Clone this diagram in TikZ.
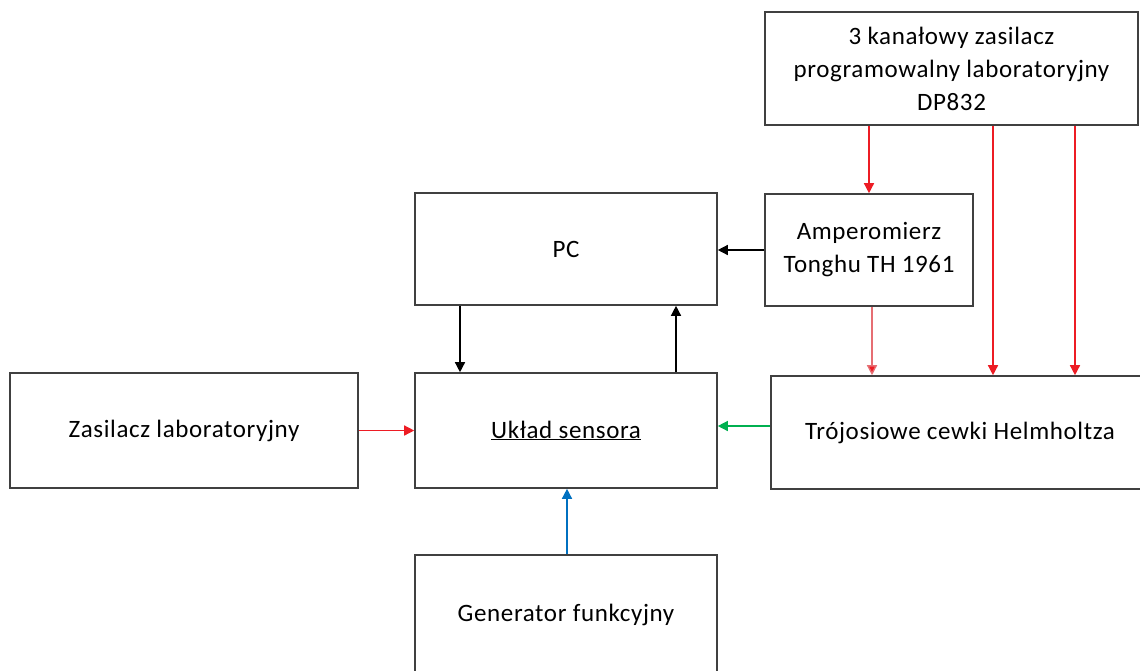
\documentclass[tikz,border=0pt]{standalone}
\usepackage{fontspec}
\setmainfont[LetterSpace=2.5]{Carlito}
\usetikzlibrary{arrows.meta}
\definecolor{linered}{RGB}{237,28,36}
\definecolor{palered}{RGB}{230,110,115}
\definecolor{linegreen}{RGB}{0,176,80}
\definecolor{lineblue}{RGB}{0,112,192}
\definecolor{boxline}{RGB}{64,64,64}
\begin{document}
\begin{tikzpicture}[x=1pt,y=-1pt,
  box/.style={draw=boxline,line width=1.6pt,rectangle,align=center,
    inner sep=0pt,font=\fontsize{25}{33}\selectfont},
  arr/.style={line width=1.4pt,-{Triangle[width=10pt,length=10pt]}},
  blk/.style={arr,draw=black},
  red/.style={arr,draw=linered,fill=linered},
  pred/.style={arr,draw=palered,-{Triangle[width=10pt,length=10pt,fill=linered]}},
  grn/.style={arr,draw=linegreen},
  blu/.style={arr,draw=lineblue}]
\useasboundingbox (0,0) rectangle (1140,670);
\fill[white] (0,0) rectangle (1140,670);

% blocks
\node[box,minimum width=373pt,minimum height=113pt] (dp) at (951.5,68.5)
  {3 kanałowy zasilacz\\programowalny laboratoryjny\\DP832};
\node[box,minimum width=302pt,minimum height=112pt] (pc) at (566,249) {PC};
\node[box,minimum width=208pt,minimum height=112pt] (amp) at (869,250)
  {Amperomierz\\Tonghu TH 1961};
\node[box,minimum width=348pt,minimum height=115pt] (zl) at (184,430.5)
  {Zasilacz laboratoryjny};
\node[box,minimum width=302pt,minimum height=115pt] (uk) at (566,430.5)
  {\underline{Układ sensora}};
\node[box,minimum width=378pt,minimum height=113pt] (tr) at (960,432.5)
  {Trójosiowe cewki Helmholtza};
\node[box,minimum width=302pt,minimum height=120pt] (gen) at (566,615)
  {Generator funkcyjny};

% supply lines
\draw[red] (dp.south -| amp.north) -- (amp.north);
\draw[red] ([xshift=33pt]tr.north |- dp.south) -- ([xshift=33pt]tr.north);
\draw[red] ([xshift=115pt]tr.north |- dp.south) -- ([xshift=115pt]tr.north);
\draw[pred] ([xshift=3pt]amp.south) -- ([xshift=3pt]amp.south |- tr.north);

% data lines
\draw[blk] (amp.west) -- (amp.west -| pc.east);
\draw[blk] ([xshift=-106pt]pc.south) -- ([xshift=-106pt]uk.north);
\draw[blk] ([xshift=110pt]uk.north) -- ([xshift=110pt]pc.south);

% signals into the sensor board
\draw[red] (zl.east) -- (uk.west);
\draw[grn] ([yshift=6.5pt]tr.west) -- ([yshift=6.5pt]tr.west -| uk.east);
\draw[blu] ([xshift=1pt]gen.north) -- ([xshift=1pt]uk.south);
\end{tikzpicture}
\end{document}
